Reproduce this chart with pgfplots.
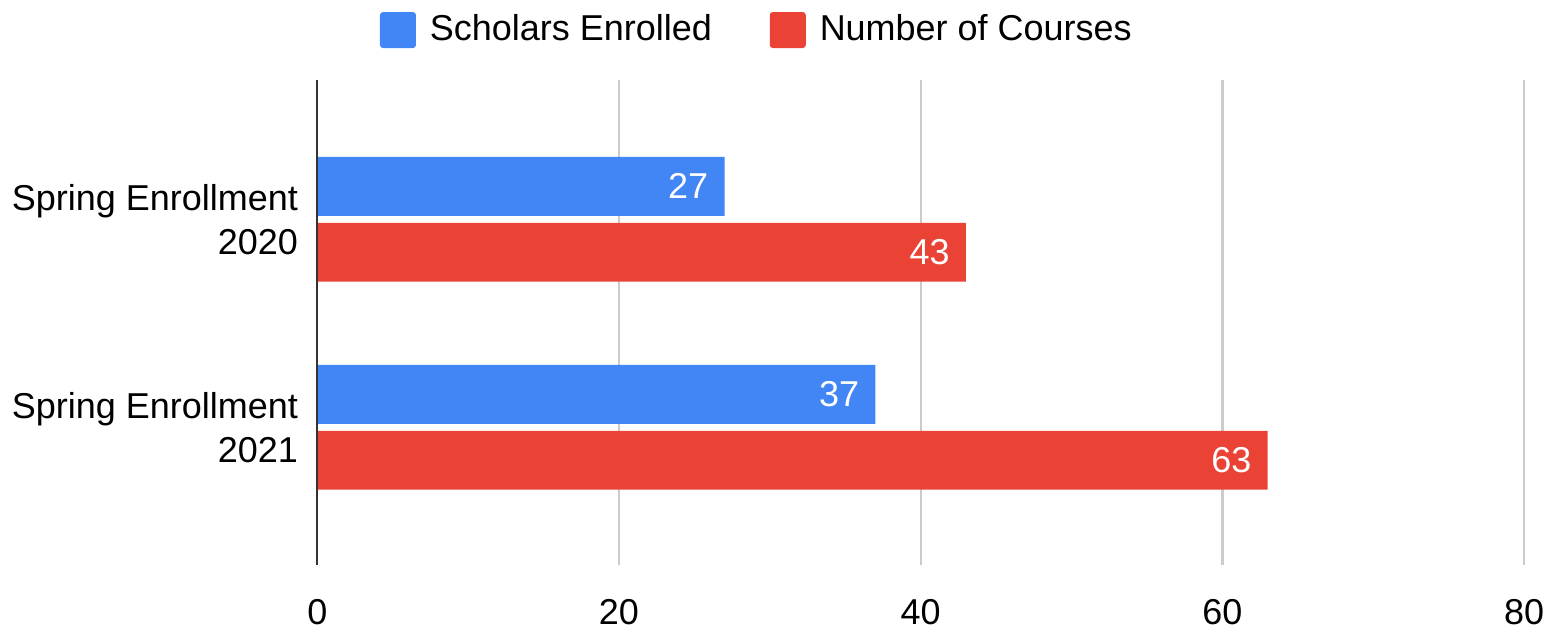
\documentclass[border=0pt]{standalone}
\usepackage{fontspec}
\setmainfont{Liberation Sans}
\usepackage{pgfplots}
\pgfplotsset{compat=1.18}

\definecolor{gblue}{HTML}{4285F4}
\definecolor{gred}{HTML}{EA4335}
\definecolor{ggrid}{HTML}{CCCCCC}

\begin{document}
\fontsize{18}{21}\selectfont
\begin{tikzpicture}
\begin{axis}[
    xbar,
    scale only axis,
    width=604pt, height=242.5pt,
    xmin=0, xmax=80, ymin=-0.67, ymax=1.66,
    y dir=reverse,
    xtick={0,20,40,60,80},
    ytick={0,1},
    yticklabels={{Spring Enrollment\\2020},{Spring Enrollment\\2021}},
    yticklabel style={align=right, font=\fontsize{18}{22}\selectfont, xshift=-3.5pt},
    xticklabel style={font=\fontsize{18}{21}\selectfont, yshift=-11pt},
    /pgf/number format/assume math mode=true,
    major tick length=0pt,
    tick align=outside,
    xmajorgrids, grid style={ggrid, line width=1.2pt},
    axis line style={draw=none},
    xtick pos=bottom, ytick pos=left,
    bar width=29.5pt,
    clip=false,
    legend columns=2,
    legend style={at={(0.365,1.103)}, anchor=center, draw=none, fill=none,
        font=\fontsize{18}{21}\selectfont,
        /tikz/every odd column/.append style={column sep=5pt},
        /tikz/every even column/.append style={column sep=27pt}},
    legend image code/.code={\fill[#1, rounded corners=1.5pt] (0pt,-9pt) rectangle (18pt,9pt);},
    nodes near coords,
    every node near coord/.append style={white, anchor=east, xshift=-2pt, font=\fontsize{18}{21}\selectfont},
]
\addplot[draw=none, fill=gblue, bar shift=16.5pt] coordinates {(27,0) (37,1)};
\addplot[draw=none, fill=gred, bar shift=-16.5pt] coordinates {(43,0) (63,1)};
\legend{Scholars Enrolled, Number of Courses}
\draw[black!80, line width=1.2pt] (axis cs:0,-0.67) -- (axis cs:0,1.66);
\path (rel axis cs:-0.2616,1.165) (rel axis cs:1.028,-0.13);
\end{axis}
\end{tikzpicture}
\end{document}
